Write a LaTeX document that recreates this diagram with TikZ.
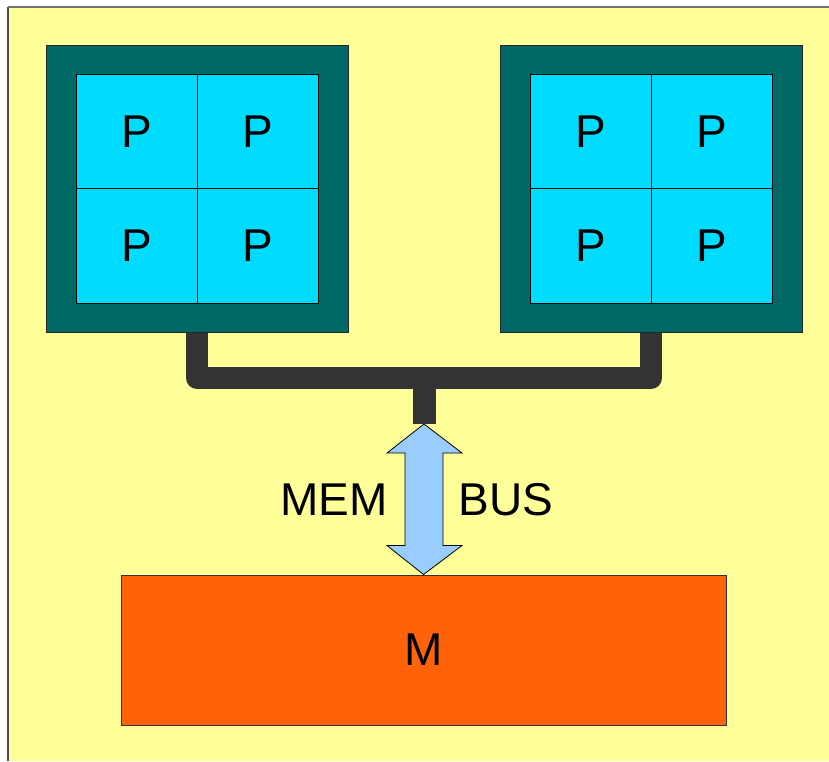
\documentclass[tikz,border=0pt]{standalone}
\usepackage{fontspec}
\setmainfont{Liberation Sans}
\usetikzlibrary{calc}

\definecolor{paper}{HTML}{FFFF99}
\definecolor{chipteal}{HTML}{006966}
\definecolor{corecyan}{HTML}{00DCFF}
\definecolor{busgray}{HTML}{333333}
\definecolor{arrowblue}{HTML}{99CCFF}
\definecolor{memorange}{HTML}{FF6309}

\tikzset{
  chip/.style={draw=black!85, line width=1pt, fill=chipteal,
    minimum width=302pt, minimum height=287pt, inner sep=0pt},
  core/.style={draw=black, line width=0.8pt, fill=corecyan,
    minimum width=121pt, minimum height=114.5pt, inner sep=0pt,
    font=\fontsize{46}{50}\selectfont},
  bus/.style={busgray, line width=22pt, line join=round},
  stub/.style={busgray, line width=23pt, line cap=butt},
  busarrow/.style={draw=black, line width=0.8pt, fill=arrowblue, line join=miter},
  memory/.style={draw=black!80, line width=1pt, fill=memorange,
    minimum width=605pt, minimum height=150pt, inner sep=0pt,
    font=\fontsize{46}{50}\selectfont},
  label/.style={inner sep=0pt, font=\fontsize{46}{50}\selectfont}
}

\begin{document}
\begin{tikzpicture}[x=1pt, y=-1pt]
  \useasboundingbox (0,0) rectangle (829,761);

  % sheet
  \fill[paper] (8,7) rectangle (829,761);
  \draw[black!70, line width=1.5pt] (8,761) -- (8,7);
  \draw[black!55, line width=1.5pt] (8,7) -- (829,7);

  % bus between the two chips
  \coordinate (b1) at (197,332);
  \coordinate (b2) at (651,332);
  \draw[bus] (b1) -- (197,378) -- (651,378) -- (b2);
  \coordinate (junction) at (424.5,378);
  \coordinate (busend) at (424.5,423.5);
  \draw[stub] (junction) -- (busend);

  % left chip
  \node[chip] (chipL) at (197,188.5) {};
  \node[core] (L11) at (136.5,131.25) {P};
  \node[core] (L12) at (257.5,131.25) {P};
  \node[core] (L21) at (136.5,245.75) {P};
  \node[core] (L22) at (257.5,245.75) {P};

  % right chip
  \node[chip] (chipR) at (651,188.5) {};
  \node[core] (R11) at (590.5,131.25) {P};
  \node[core] (R12) at (711.5,131.25) {P};
  \node[core] (R21) at (590.5,245.75) {P};
  \node[core] (R22) at (711.5,245.75) {P};

  % main memory
  \node[memory] (mem) at (423.5,650) {M};

  % double-headed memory bus arrow
  \coordinate (atop) at (424,424);
  \coordinate (abot) at (mem.north);
  \draw[busarrow] (atop)
    -- ($(atop)+(38,29)$) -- ($(atop)+(19,29)$)
    -- ($(abot)+(19.5,-29)$) -- ($(abot)+(38.5,-29)$)
    -- (abot)
    -- ($(abot)+(-36.5,-29)$) -- ($(abot)+(-18.5,-29)$)
    -- ($(atop)+(-19,29)$) -- ($(atop)+(-37,29)$)
    -- cycle;

  \node[label] (memtxt) at (334,500) {MEM};
  \node[label] (bustxt) at (506,500) {BUS};
\end{tikzpicture}
\end{document}
